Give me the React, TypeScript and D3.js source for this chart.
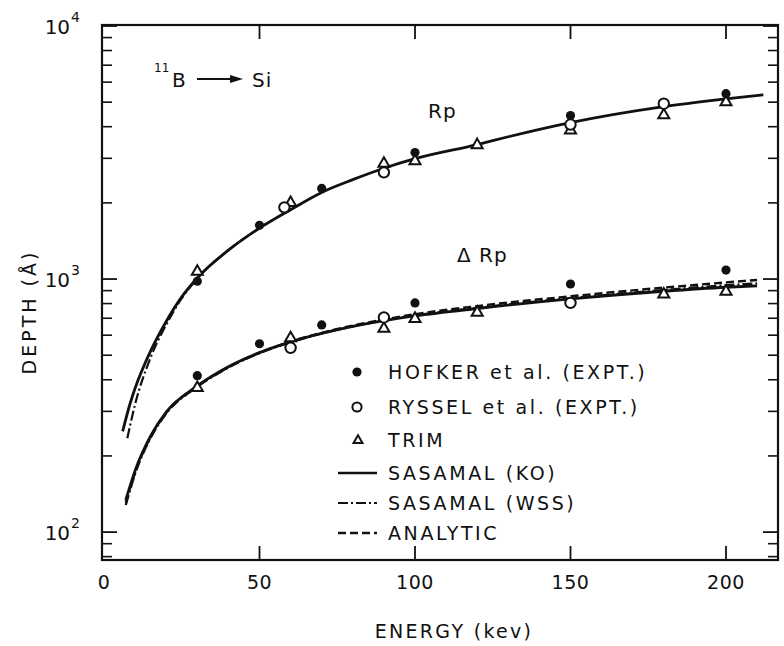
import React from "react";
import * as d3 from "d3";

// ---- data ----
const xTicks = [0, 50, 100, 150, 200];
const yMajor = [100, 1000, 10000];
const yMajorExp = ["2", "3", "4"];

// Rp experimental / simulated points [energy keV, depth Å]
const rpHofker: [number, number][] = [[30, 980], [50, 1630], [70, 2280], [100, 3160], [150, 4430], [200, 5400]];
const rpRyssel: [number, number][] = [[58, 1920], [90, 2640], [150, 4080], [180, 4930]];
const rpTrim: [number, number][] = [[30, 1075], [60, 2010], [90, 2870], [100, 2940], [120, 3400], [150, 3890], [180, 4460], [200, 5020]];

// ΔRp points
const drpHofker: [number, number][] = [[30, 415], [50, 555], [70, 659], [100, 805], [150, 956], [200, 1085]];
const drpRyssel: [number, number][] = [[60, 535], [90, 705], [150, 805]];
const drpTrim: [number, number][] = [[30, 373], [60, 587], [90, 640], [100, 700], [120, 741], [180, 873], [200, 897]];

// curves
const rpKO: [number, number][] = [[6, 250], [8, 310], [10, 370], [15, 520], [20, 680], [25, 850], [30, 1010], [40, 1300], [50, 1590], [60, 1880], [70, 2200], [80, 2470], [90, 2740], [100, 2990], [120, 3400], [130, 3650], [150, 4150], [180, 4800], [200, 5150], [212, 5350]];
const rpWSS: [number, number][] = [[7.5, 235], [10, 320], [15, 490], [20, 660], [25, 840], [30, 1005], [40, 1300], [50, 1590]];
const drpKO: [number, number][] = [[7, 134], [10, 175], [15, 240], [20, 298], [30, 378], [40, 450], [50, 512], [60, 565], [70, 610], [80, 650], [90, 685], [100, 715], [120, 765], [150, 835], [180, 895], [200, 928], [210, 940]];
const drpWSS: [number, number][] = [[7, 128], [10, 170], [15, 236], [20, 294], [30, 375], [40, 447], [50, 510], [60, 563], [70, 610], [80, 650], [90, 687], [100, 718], [120, 770], [150, 840], [180, 905], [200, 945], [210, 960]];
const drpAnalytic: [number, number][] = [[7, 131], [10, 172], [15, 238], [20, 296], [30, 377], [40, 449], [50, 512], [60, 566], [70, 613], [80, 655], [90, 692], [100, 726], [120, 782], [150, 855], [180, 925], [200, 970], [210, 992]];

const legendLabels = ["HOFKER et al. (EXPT.)", "RYSSEL et al. (EXPT.)", "TRIM", "SASAMAL (KO)", "SASAMAL (WSS)", "ANALYTIC"];

const FONT = "DejaVu Sans, sans-serif";

export default function App() {
  const W = 784, H = 646;
  const left = 102, right = 778, top = 25, bottom = 560;
  const x = d3.scaleLinear().domain([0, 216.5]).range([104, 104 + 216.5 * 3.11]);
  const y = d3.scaleLog().domain([10 ** (2 - 28 / 254), 10 ** (4 + 1 / 254)]).range([bottom, top - 0]);
  const line = d3.line<[number, number]>().x(d => x(d[0])).y(d => y(d[1])).curve(d3.curveMonotoneX);

  const minor: number[] = [];
  for (const dec of [10, 100, 1000]) for (let k = 2; k <= 9; k++) { const v = k * dec; if (y(v) <= bottom && y(v) >= top) minor.push(v); }

  const tri = (cx: number, cy: number, s = 11) => {
    const h = s * 0.87;
    return `M${cx},${cy - h * 0.62}L${cx + s / 2},${cy + h * 0.38}L${cx - s / 2},${cy + h * 0.38}Z`;
  };

  const legendY = [372, 407, 440, 473, 503, 533];

  return (
    <svg width={W} height={H} style={{ position: "absolute", left: 0, top: 0, background: "#fff" }} fontFamily={FONT}>
      <rect x={0} y={0} width={W} height={H} fill="#fff" />
      {/* frame */}
      <rect x={left} y={top} width={right - left} height={bottom - top} fill="none" stroke="#111" strokeWidth={2.2} />
      {/* x ticks */}
      {xTicks.filter(t => t > 0).map(t => (
        <g key={"xt" + t}>
          <line x1={x(t)} x2={x(t)} y1={bottom} y2={bottom - 14} stroke="#111" strokeWidth={1.8} />
          <line x1={x(t)} x2={x(t)} y1={top} y2={top + 14} stroke="#111" strokeWidth={1.8} />
        </g>
      ))}
      {xTicks.map(t => (
        <text key={"xl" + t} x={x(t)} y={589} textAnchor="middle" fontSize={19} letterSpacing={0.5} fill="#111">{t}</text>
      ))}
      {/* y ticks */}
      {yMajor.map(v => (
        <g key={"ym" + v}>
          <line x1={left} x2={left + 15} y1={y(v)} y2={y(v)} stroke="#111" strokeWidth={1.8} />
          <line x1={right} x2={right - 15} y1={y(v)} y2={y(v)} stroke="#111" strokeWidth={1.8} />
        </g>
      ))}
      {minor.map(v => (
        <g key={"yn" + v}>
          <line x1={left} x2={left + 10} y1={y(v)} y2={y(v)} stroke="#111" strokeWidth={1.6} />
          <line x1={right} x2={right - 10} y1={y(v)} y2={y(v)} stroke="#111" strokeWidth={1.6} />
        </g>
      ))}
      {yMajor.map((v, i) => (
        <text key={"yl" + v} x={80} y={y(v) + 8} textAnchor="end" fontSize={20} fill="#111">
          10<tspan dy={-12} dx={1} fontSize={14}>{yMajorExp[i]}</tspan>
        </text>
      ))}
      {/* axis titles */}
      <text x={454} y={638} textAnchor="middle" fontSize={19} letterSpacing={2.3} fill="#111">ENERGY (kev)</text>
      <text transform={`translate(36,312) rotate(-90)`} textAnchor="middle" fontSize={19} letterSpacing={3} fill="#111">DEPTH (Å)</text>

      {/* curves */}
      <path d={line(rpWSS) || ""} fill="none" stroke="#111" strokeWidth={2.2} strokeDasharray="10,3,2,3" />
      <path d={line(rpKO) || ""} fill="none" stroke="#111" strokeWidth={2.8} />
      <path d={line(drpWSS) || ""} fill="none" stroke="#111" strokeWidth={2.4} strokeDasharray="10,3,2,3" />
      <path d={line(drpAnalytic) || ""} fill="none" stroke="#111" strokeWidth={2.4} strokeDasharray="8,4" />
      <path d={line(drpKO) || ""} fill="none" stroke="#111" strokeWidth={2.8} />

      {/* markers */}
      {[...rpTrim, ...drpTrim].map((d, i) => (
        <path key={"t" + i} d={tri(x(d[0]), y(d[1]))} fill="#fff" stroke="#111" strokeWidth={2} />
      ))}
      {[...rpRyssel, ...drpRyssel].map((d, i) => (
        <circle key={"r" + i} cx={x(d[0])} cy={y(d[1])} r={5.2} fill="#fff" stroke="#111" strokeWidth={2} />
      ))}
      {[...rpHofker, ...drpHofker].map((d, i) => (
        <circle key={"h" + i} cx={x(d[0])} cy={y(d[1])} r={4.6} fill="#111" />
      ))}

      {/* annotations */}
      <text x={428} y={118} fontSize={20} letterSpacing={1} fill="#111">Rp</text>
      <text x={457} y={262} fontSize={20} letterSpacing={1} fill="#111">Δ Rp</text>
      <text x={154} y={72} fontSize={12} fill="#111">11</text>
      <text x={172} y={87} fontSize={20} fill="#111">B</text>
      <line x1={197} x2={232} y1={79} y2={79} stroke="#111" strokeWidth={2} />
      <path d="M230,75 L243,79 L230,83 Z" fill="#111" />
      <text x={252} y={87} fontSize={20} letterSpacing={1} fill="#111">Si</text>

      {/* legend */}
      <circle cx={357} cy={legendY[0]} r={4.6} fill="#111" />
      <circle cx={357} cy={legendY[1]} r={4.6} fill="#fff" stroke="#111" strokeWidth={2} />
      <path d={tri(358, legendY[2], 9)} fill="#fff" stroke="#111" strokeWidth={2} />
      <line x1={338} x2={377} y1={legendY[3]} y2={legendY[3]} stroke="#111" strokeWidth={2.6} />
      <line x1={338} x2={377} y1={legendY[4]} y2={legendY[4]} stroke="#111" strokeWidth={2.2} strokeDasharray="10,3,2,3" />
      <line x1={338} x2={377} y1={legendY[5]} y2={legendY[5]} stroke="#111" strokeWidth={2.4} strokeDasharray="8,4" />
      {legendLabels.map((s, i) => (
        <text key={"lg" + i} x={388} y={legendY[i] + 7} fontSize={19} letterSpacing={2.6} fill="#111">{s}</text>
      ))}
    </svg>
  );
}
